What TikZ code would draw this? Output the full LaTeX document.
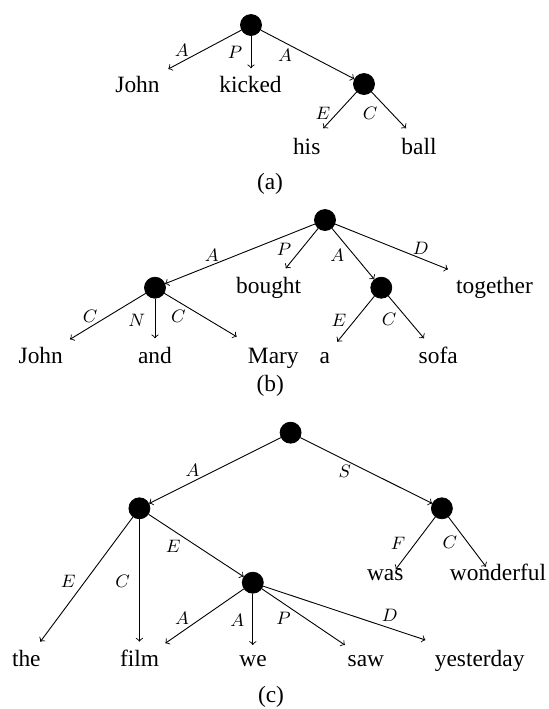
\documentclass[tikz,border=0pt]{standalone}
\usepackage{fontspec}
\setmainfont{Liberation Serif}
\begin{document}
\begin{tikzpicture}[x=0.5pt,y=-0.5pt,
  dot/.style={circle,fill=black,draw=black,inner sep=0pt,minimum size=10.5pt},
  word/.style={anchor=base,inner sep=0pt,font=\fontsize{11.7}{14}\selectfont},
  lbl/.style={inner sep=0pt,font=\fontsize{9}{10}\selectfont},
  edge/.style={->,line width=0.45pt},
]
\useasboundingbox (0,0) rectangle (549,709);
% ---------------- (a)
\node[dot] (a0) at (251,25) {};
\node[dot] (a1) at (364,84) {};
\node[word] (aJohn) at (137.5,92.3) {John};
\node[word] (akicked) at (250.5,92.3) {kicked};
\node[word] (ahis) at (306.7,154) {his};
\node[word] (aball) at (419,154) {ball};
\node[word] (acap) at (270,189) {(a)};
\coordinate (eaJohn) at (168.3,69);
\coordinate (eakicked) at (251,68.3);
\coordinate (eahis) at (323.3,128.3);
\coordinate (eaball) at (406,128.3);
\draw[edge] (a0) -- (eaJohn);
\draw[edge] (a0) -- (eakicked);
\draw[edge] (a0) -- (a1);
\draw[edge] (a1) -- (eahis);
\draw[edge] (a1) -- (eaball);
\node[lbl] (la1) at (181.7,50) {$A$};
\node[lbl] (la2) at (235,52.7) {$P$};
\node[lbl] (la3) at (285,55) {$A$};
\node[lbl] (la4) at (323,113) {$E$};
\node[lbl] (la5) at (370,113) {$C$};
% ---------------- (b)
\node[dot] (b0) at (325,220) {};
\node[dot] (b1) at (155,287.7) {};
\node[dot] (b2) at (381.3,287.7) {};
\node[word] (bbought) at (268.7,293.3) {bought};
\node[word] (btogether) at (494.5,293.3) {together};
\node[word] (bJohn) at (40.8,363.3) {John};
\node[word] (band) at (155,363.3) {and};
\node[word] (bMary) at (273.3,363.3) {Mary};
\node[word] (ba) at (324.8,363.3) {a};
\node[word] (bsofa) at (438.2,363.3) {sofa};
\node[word] (bcap) at (270.3,391) {(b)};
\coordinate (ebbought) at (285.7,268.3);
\coordinate (ebtogether) at (448,269.3);
\coordinate (ebJohn) at (70,339.3);
\coordinate (eband) at (155,338.3);
\coordinate (ebMary) at (236.7,336.7);
\coordinate (eba) at (337.3,341.7);
\coordinate (ebsofa) at (424,338.3);
\draw[edge] (b0) -- (b1);
\draw[edge] (b0) -- (ebbought);
\draw[edge] (b0) -- (b2);
\draw[edge] (b0) -- (ebtogether);
\draw[edge] (b1) -- (ebJohn);
\draw[edge] (b1) -- (eband);
\draw[edge] (b1) -- (ebMary);
\draw[edge] (b2) -- (eba);
\draw[edge] (b2) -- (ebsofa);
\node[lbl] (lb1) at (211.7,255) {$A$};
\node[lbl] (lb2) at (284,249.3) {$P$};
\node[lbl] (lb3) at (337.3,255) {$A$};
\node[lbl] (lb4) at (420.7,248.3) {$D$};
\node[lbl] (lb5) at (90,316.7) {$C$};
\node[lbl] (lb6) at (136.7,320) {$N$};
\node[lbl] (lb7) at (178.3,316) {$C$};
\node[lbl] (lb8) at (339,320.7) {$E$};
\node[lbl] (lb9) at (389,319.3) {$C$};
% ---------------- (c)
\node[dot] (c0) at (290.6,432.7) {};
\node[dot] (c1) at (139.4,508.3) {};
\node[dot] (c2) at (441.9,508.3) {};
\node[dot] (c3) at (252.8,582.7) {};
\node[word] (cwas) at (385.2,580) {was};
\node[word] (cwonderful) at (498,580) {wonderful};
\node[word] (cthe) at (26.3,666.7) {the};
\node[word] (cfilm) at (139.5,666.7) {film};
\node[word] (cwe) at (253,666.7) {we};
\node[word] (csaw) at (365.9,666.7) {saw};
\node[word] (cyesterday) at (479.7,666.7) {yesterday};
\node[word] (ccap) at (271,702) {(c)};
\coordinate (ecwas) at (395.7,569.3);
\coordinate (ecwonderful) at (486,566.7);
\coordinate (ecthe) at (40.3,641.7);
\coordinate (ecfilm) at (139.4,641.7);
\coordinate (ecfilmB) at (165.3,643.3);
\coordinate (ecwe) at (252.8,645);
\coordinate (ecsaw) at (344.9,645);
\coordinate (ecyesterday) at (425.4,640);
\draw[edge] (c0) -- (c1);
\draw[edge] (c0) -- (c2);
\draw[edge] (c2) -- (ecwas);
\draw[edge] (c2) -- (ecwonderful);
\draw[edge] (c1) -- (ecthe);
\draw[edge] (c1) -- (ecfilm);
\draw[edge] (c1) -- (c3);
\draw[edge] (c3) -- (ecfilmB);
\draw[edge] (c3) -- (ecwe);
\draw[edge] (c3) -- (ecsaw);
\draw[edge] (c3) -- (ecyesterday);
\node[lbl] (lc1) at (192.6,470) {$A$};
\node[lbl] (lc2) at (344.9,471) {$S$};
\node[lbl] (lc3) at (398.1,543.3) {$F$};
\node[lbl] (lc4) at (449.9,542.7) {$C$};
\node[lbl] (lc5) at (68.3,581.7) {$E$};
\node[lbl] (lc6) at (122.5,581.7) {$C$};
\node[lbl] (lc7) at (173.3,546.7) {$E$};
\node[lbl] (lc8) at (182.1,618.3) {$A$};
\node[lbl] (lc9) at (237.4,620.7) {$A$};
\node[lbl] (lc10) at (283.6,618.3) {$P$};
\node[lbl] (lc11) at (389.7,615) {$D$};
\end{tikzpicture}
\end{document}
